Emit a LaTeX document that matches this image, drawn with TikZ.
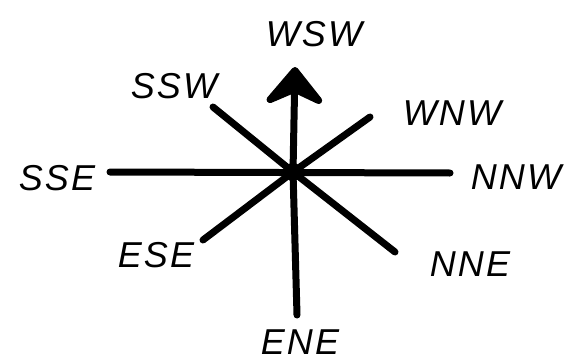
\documentclass[tikz,border=0pt]{standalone}
\usepackage{fontspec}
\setmainfont{Liberation Sans}
\usetikzlibrary{arrows.meta}
\tikzset{
  ray/.style={line width=7pt, line cap=round},
  dirlabel/.style={font=\fontsize{36}{40}\selectfont\itshape\addfontfeature{LetterSpace=6}}
}
\begin{document}
\begin{tikzpicture}[x=1pt,y=-1pt]
\useasboundingbox (0,0) rectangle (573,364);

% centre of the rose
\coordinate (c) at (293,172);

% ray ends
\coordinate (n) at (295,67);
\coordinate (s) at (297,315);
\coordinate (w) at (110,172);
\coordinate (e) at (450,173);
\coordinate (nw) at (213,107);
\coordinate (ne) at (370,117);
\coordinate (sw) at (203,240);
\coordinate (se) at (395,252);

% rays
\draw[ray] (c) -- (s);
\draw[ray] (w) -- (e);
\draw[ray] (nw) -- (c) -- (se);
\draw[ray] (sw) -- (c) -- (ne);
\draw[ray, -{Stealth[length=44pt 0 0, width=72pt 0 0, inset=16pt 0 0, round]}] (c) -- (n);
\fill (c) circle (9);

% labels
\node[dirlabel] (wsw) at (314,34) {WSW};
\node[dirlabel] (ssw) at (174,86) {SSW};
\node[dirlabel] (wnw) at (452,113) {WNW};
\node[dirlabel] (sse) at (57,178) {SSE};
\node[dirlabel] (nnw) at (516,177) {NNW};
\node[dirlabel] (ese) at (156,255) {ESE};
\node[dirlabel] (nne) at (470,264) {NNE};
\node[dirlabel] (ene) at (300,342) {ENE};

\end{tikzpicture}
\end{document}
